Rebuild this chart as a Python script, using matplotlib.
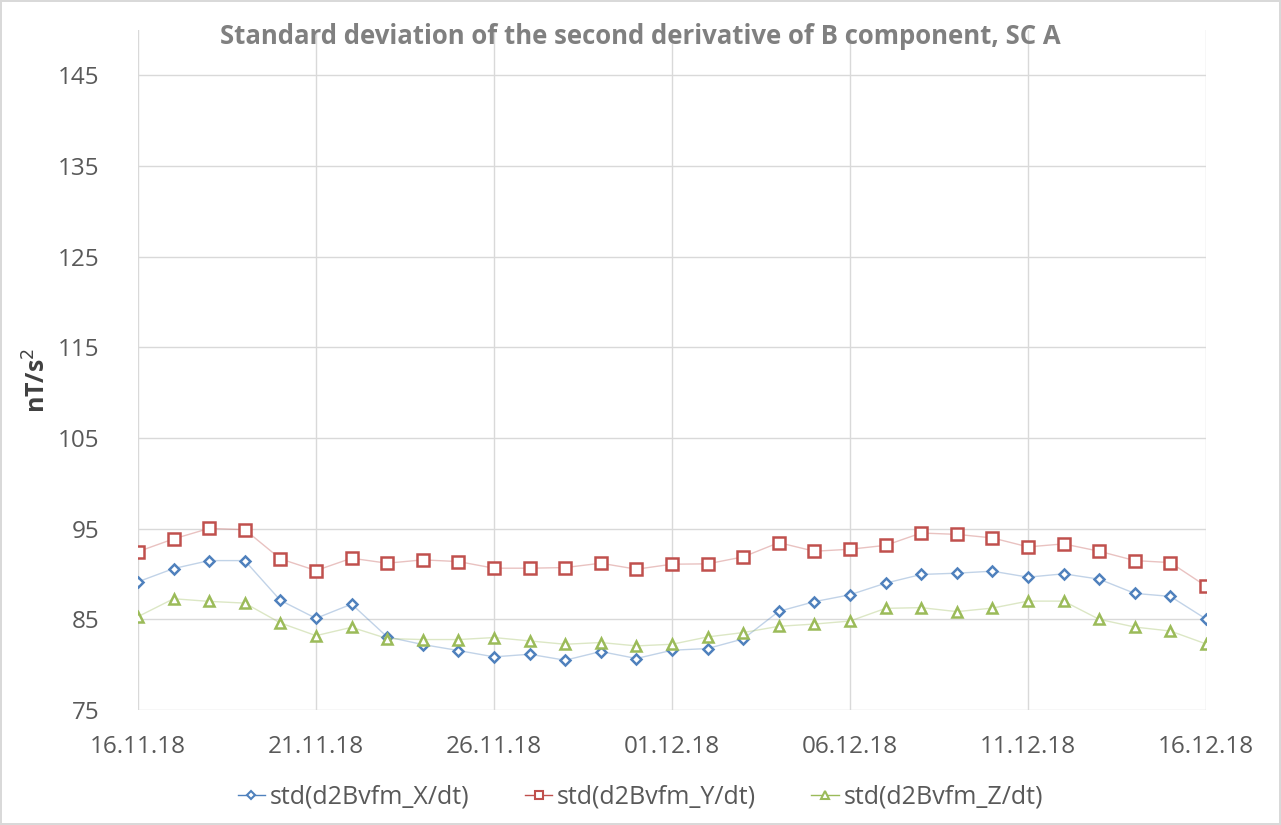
import numpy as np
import matplotlib
matplotlib.use("Agg")
import matplotlib.pyplot as plt
import matplotlib.dates as mdates

# daily values, 16.11.18 .. 16.12.18
start = np.datetime64("2018-11-16")
days = start + np.arange(31)

std_x = [89.14, 90.60, 91.48, 91.48, 87.09, 85.11, 86.68, 83.06, 82.22, 81.56, 80.86,
         81.15, 80.49, 81.45, 80.68, 81.59, 81.78, 82.84, 85.88, 86.95, 87.71, 88.99,
         89.95, 90.09, 90.31, 89.65, 90.02, 89.43, 87.86, 87.53, 85.04]
std_y = [92.47, 93.87, 95.03, 94.89, 91.67, 90.38, 91.74, 91.19, 91.56, 91.37, 90.64,
         90.64, 90.71, 91.19, 90.53, 91.08, 91.12, 91.89, 93.46, 92.51, 92.73, 93.16,
         94.52, 94.37, 93.98, 92.99, 93.32, 92.51, 91.48, 91.26, 88.66]
std_z = [85.30, 87.27, 86.98, 86.79, 84.60, 83.20, 84.12, 82.88, 82.77, 82.77, 82.99,
         82.62, 82.25, 82.44, 82.07, 82.25, 83.06, 83.54, 84.23, 84.48, 84.81, 86.21,
         86.29, 85.85, 86.24, 87.01, 87.01, 85.00, 84.15, 83.71, 82.29]

labels = ["std(d2Bvfm_X/dt)", "std(d2Bvfm_Y/dt)", "std(d2Bvfm_Z/dt)"]
colors = ["#4f81bd", "#c0504d", "#9bbb59"]
markers = ["D", "s", "^"]
msizes = [5.5, 8, 7.5]

plt.rcParams['font.family'] = ['Open Sans', 'DejaVu Sans']

fig = plt.figure(figsize=(12.81, 8.25), dpi=100)
fig.patch.set_edgecolor("#d9d9d9")
fig.patch.set_linewidth(1.5)
ax = fig.add_axes([138/1281, 1 - 710/825, (1206 - 138)/1281, (710 - 30)/825])

for vals, lab, c, m, ms in zip([std_x, std_y, std_z], labels, colors, markers, msizes):
    ax.plot(days, vals, color=c, lw=1.0, alpha=0.35, label=lab)
    ax.plot(days, vals, ls="none", marker=m, ms=ms, mfc="white", mec=c, mew=1.8)

ax.set_ylim(75, 150)
ax.set_yticks(np.arange(75, 146, 10))
ax.set_xlim(days[0], days[-1])
ax.set_xticks(days[::5])
ax.xaxis.set_major_formatter(mdates.DateFormatter("%d.%m.%y"))
ax.tick_params(axis="both", length=0, labelsize=17.5, labelcolor="#595959")
ax.tick_params(axis="y", pad=28)
ax.tick_params(axis="x", pad=18)
ax.grid(True, color="#d9d9d9", lw=1)
ax.set_axisbelow(True)
for s in ax.spines.values():
    s.set_visible(False)

fig.text(0.5, 1 - 36/825, "Standard deviation of the second derivative of B component, SC A",
         ha="center", va="center", fontsize=18.5, fontweight="bold", color="#808080")
fig.text(38/1281, 1 - 380/825, "nT/s$^2$", rotation=90, ha="center", va="center",
         fontsize=18, fontweight="bold", color="#404040")

# legend built from proxy handles with markers on a line
handles = [plt.Line2D([], [], color=c, lw=1.0, marker=m, ms=ms * 0.75, mfc="white", mec=c, mew=1.5)
           for c, m, ms in zip(colors, markers, msizes)]
leg = fig.legend(handles, labels, loc="center", bbox_to_anchor=(0.5, 1 - 797/825), ncol=3,
                 frameon=False, fontsize=18, handlelength=1.1, handletextpad=0.2,
                 columnspacing=2.2)
for t in leg.get_texts():
    t.set_color("#595959")

fig.savefig("out.png", dpi=100, edgecolor=fig.get_edgecolor())
